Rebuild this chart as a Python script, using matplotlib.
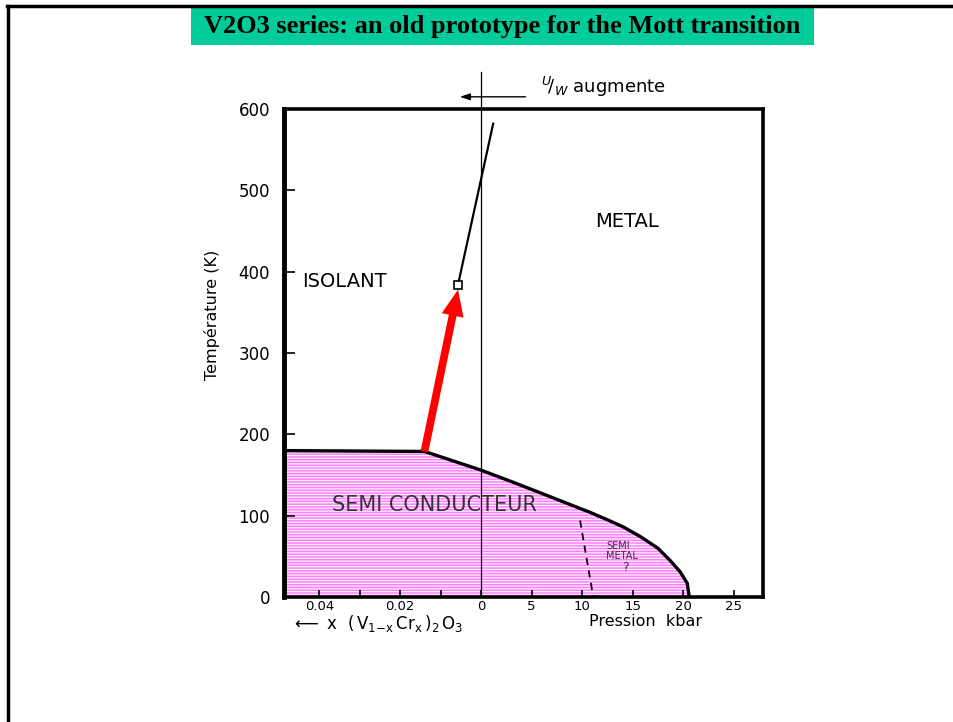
import numpy as np
import matplotlib.pyplot as plt
from matplotlib.lines import Line2D
from matplotlib.patches import Rectangle

# temperature axis (K)
t_ticks = [0, 100, 200, 300, 400, 500, 600]

# lower x axis: Cr content on the left, pressure (kbar) on the right
comp_ticks = [0.04, 0.03, 0.02, 0.01]
comp_labels = ['0.04', '', '0.02', '']
press_ticks = [0, 5, 10, 15, 20, 25]
press_labels = ['0', '5', '10', '15', '20', '25']

# one x unit is one kbar, 0.01 of Cr counts as about 4 kbar (negative side)
KBAR_PER_X = 400.0

# semiconductor boundary: Cr side (x, T) then pressure side (P, T)
sc_comp = [0.049, 0.014]
sc_comp_T = [180, 179]
sc_press = [0, 3.2, 6.5, 10.8, 12.5, 14.1, 15.8, 17.5, 18.7, 19.7, 20.4, 20.6]
sc_press_T = [156, 141, 125, 104, 95, 86, 74, 60, 45, 31, 17, 0]

# metal / insulator first order line, from its end point (square) upwards
mi_comp = [0.0057]
mi_comp_T = [384]
mi_press = [1.2]
mi_press_T = [582]

# red arrow
arrow_comp = [0.014, 0.0057]
arrow_T = [179, 378]

# dashed semiconductor / semimetal limit
sm_press = [9.8, 11.1]
sm_T = [94, 0]


def comp_x(c):
    return -np.asarray(c, dtype=float) * KBAR_PER_X


plt.rcParams['font.family'] = 'DejaVu Sans'
plt.rcParams['hatch.linewidth'] = 1.1

fig = plt.figure(figsize=(9.54, 7.22), dpi=100)
ax = fig.add_axes([0.2977, 0.1731, 0.5021, 0.6759])

# semiconducting region, pink horizontal hatching
bx = np.concatenate([comp_x(sc_comp), sc_press])
bt = np.concatenate([sc_comp_T, sc_press_T])
ax.fill_between(bx, 0, bt, facecolor='#fff2ff', edgecolor='#ff80ff',
                hatch='------', linewidth=0)
ax.plot(bx, bt, color='black', lw=2.4, solid_capstyle='round',
        solid_joinstyle='round')

# metal / insulator line and its end point
lx = np.concatenate([comp_x(mi_comp), mi_press])
lt = np.concatenate([mi_comp_T, mi_press_T])
ax.plot(lx, lt, color='black', lw=1.6)
ax.plot(lx[:1], lt[:1], marker='s', ms=6, mfc='white', mec='black', mew=1.2)

# red arrow towards the end point
ax.annotate('', xy=(comp_x(arrow_comp)[1], arrow_T[1]),
            xytext=(comp_x(arrow_comp)[0], arrow_T[0]),
            arrowprops=dict(arrowstyle='simple,head_length=0.95,head_width=0.8,tail_width=0.28',
                            facecolor='red', edgecolor='red', lw=0,
                            mutation_scale=20, shrinkA=0, shrinkB=0))

# semimetal limit
ax.plot(sm_press, sm_T, color='black', lw=1.3, ls=(0, (4, 3)))

# P = 0 / x = 0 line, running above the frame
ax.axvline(0, ymin=0, ymax=1.076, color='black', lw=0.9, clip_on=False)

# U/W arrow above the frame
ax.annotate('', xy=(-2.1, 615), xytext=(4.4, 615), annotation_clip=False,
            arrowprops=dict(arrowstyle='-|>,head_length=0.6,head_width=0.2',
                            color='black', lw=1.0, shrinkA=0, shrinkB=0))
ax.text(5.9, 627, r'$^{U}\!/_{W}$ augmente', fontsize=13,
        ha='left', va='center', clip_on=False)

# region names
ax.text(-17.7, 388, 'ISOLANT', fontsize=14, ha='left', va='center')
ax.text(14.4, 462, 'METAL', fontsize=14, ha='center', va='center')

ink = '#333333'
ax.text(-4.6, 113, 'SEMI CONDUCTEUR', fontsize=15, ha='center',
        va='center', color=ink)
ax.text(13.6, 63, 'SEMI', fontsize=7, ha='center', va='center', color=ink)
ax.text(13.9, 50, 'METAL', fontsize=7, ha='center', va='center', color=ink)
ax.text(14.3, 36, '?', fontsize=9, ha='center', va='center', color=ink)

# axes
ax.set_xlim(-19.5, 27.9)
ax.set_ylim(0, 600)
ax.set_yticks(t_ticks)
ax.set_yticklabels([str(t) for t in t_ticks], fontsize=12)
ax.tick_params(axis='y', direction='in', length=8, width=1.2, pad=10)

xt = list(comp_x(comp_ticks)) + press_ticks
xl = comp_labels + press_labels
ax.set_xticks(xt)
ax.set_xticklabels(xl, fontsize=9.5)
ax.tick_params(axis='x', direction='in', length=5, width=1.2, pad=2)
for s in ax.spines.values():
    s.set_linewidth(2.6)
ax.spines['left'].set_linewidth(3.5)

ax.text(-0.150, 0.578, 'Température (K)', transform=ax.transAxes,
        rotation=90, fontsize=11.5, ha='center', va='center')
ax.text(16.3, -30, 'Pression  kbar', fontsize=11.5, ha='center',
        va='center', clip_on=False)
ax.text(-10.3, -32, r'$\longleftarrow$ x  $(\,\mathrm{V_{1\!-\!x}\,Cr_x}\,)_2\,\mathrm{O_3}$',
        fontsize=12, ha='center', va='center', clip_on=False)

# page frame and title banner
fig.add_artist(Line2D([7 / 954, 1], [1 - 6 / 722, 1 - 6 / 722],
                      transform=fig.transFigure, color='black', lw=2.5))
fig.add_artist(Line2D([8 / 954, 8 / 954], [0, 1 - 6 / 722],
                      transform=fig.transFigure, color='black', lw=2.5))
fig.add_artist(Rectangle((191 / 954, 1 - 45 / 722), 623 / 954, 38 / 722,
                         transform=fig.transFigure, facecolor='#00cc99',
                         edgecolor='none'))
fig.text(502 / 954, 1 - 26 / 722,
         'V2O3 series: an old prototype for the Mott transition',
         fontsize=19, fontweight='bold', family='Liberation Serif',
         ha='center', va='center')

fig.savefig('out.png', dpi=100)
